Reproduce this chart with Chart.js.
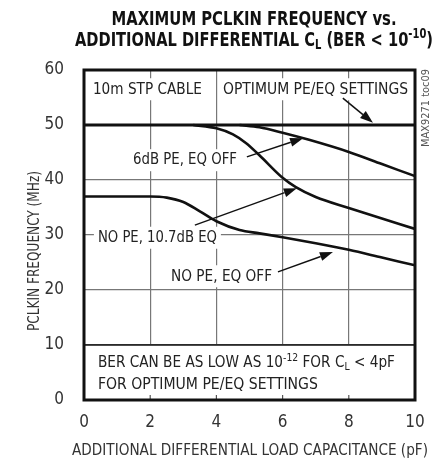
<!DOCTYPE html>
<html>
<head>
<meta charset="utf-8">
<script src="https://cdn.jsdelivr.net/npm/chart.js@4.4.1/dist/chart.umd.min.js"></script>
<style>
  html, body { margin: 0; padding: 0; background: #fff; }
  #wrap { width: 445px; height: 461px; }
</style>
</head>
<body>
<div id="wrap"><canvas id="grafico" width="445" height="461"></canvas></div>
<script>
const FONT = "'Liberation Sans Narrow','DejaVu Sans Condensed','Roboto Condensed','Arial Narrow','Liberation Sans',sans-serif";

// ejes
const xTicks = [0, 2, 4, 6, 8, 10];
const yTicks = [0, 10, 20, 30, 40, 50, 60];

// curvas (pF -> MHz)
const optimumX = [0, 10];
const optimumY = [50, 50];
const pe6X = [4.7, 5.3, 6, 6.8, 8, 9, 10];
const pe6Y = [50, 49.6, 48.6, 47.3, 45.1, 42.9, 40.7];
const eq107X = [3.3, 4, 4.5, 4.9, 5.3, 6, 6.4, 7, 8, 9, 10];
const eq107Y = [50, 49.4, 48.3, 46.7, 44.5, 40.4, 38.7, 36.9, 34.9, 33, 31.1];
const eqOffX = [0, 2, 2.5, 3, 3.5, 4, 4.7, 5.3, 6, 7, 8, 9, 10];
const eqOffY = [37, 37, 36.8, 36, 34.3, 32.5, 30.9, 30.3, 29.6, 28.5, 27.3, 25.9, 24.5];

const toPts = (xs, ys) => xs.map((x, i) => ({ x: x, y: ys[i] }));

// === ETIQUETAS Y FLECHAS (en unidades de datos, w = ancho en px) ===
const etiquetas = [
    { x: 0.27, y: 56.5, w: 109, segs: [{ t: "10m STP CABLE" }] },
    { x: 4.2, y: 56.5, w: 185, segs: [{ t: "OPTIMUM PE/EQ SETTINGS" }] },
    { x: 1.48, y: 43.6, w: 104, segs: [{ t: "6dB PE, EQ OFF" }] },
    { x: 0.42, y: 29.5, w: 119, segs: [{ t: "NO PE, 10.7dB EQ" }] },
    { x: 2.63, y: 22.5, w: 101, segs: [{ t: "NO PE, EQ OFF" }] }
];
const flechas = [
    [7.82, 54.9, 8.73, 50.4],
    [4.92, 44.2, 6.62, 47.6],
    [3.35, 31.8, 6.43, 38.5],
    [5.86, 23.3, 7.52, 26.9]
];
const nota1 = [{ t: "BER CAN BE AS LOW AS 10" }, { t: "-12", sup: true }, { t: " FOR C" }, { t: "L", sub: true }, { t: " < 4pF" }];
const nota2 = [{ t: "FOR OPTIMUM PE/EQ SETTINGS" }];
const titulo1 = [{ t: "MAXIMUM PCLKIN FREQUENCY vs." }];
const titulo2 = [{ t: "ADDITIONAL DIFFERENTIAL C" }, { t: "L", sub: true }, { t: " (BER < 10" }, { t: "-10", sup: true }, { t: ")" }];
const tituloX = [{ t: "ADDITIONAL DIFFERENTIAL LOAD CAPACITANCE (pF)" }];
const tituloY = [{ t: "PCLKIN FREQUENCY (MHz)" }];

function anchoSegs(ctx, segs, size, weight) {
    let w = 0;
    segs.forEach(s => {
        const sz = (s.sup || s.sub) ? size * 0.68 : size;
        ctx.font = weight + " " + sz + "px " + FONT;
        w += ctx.measureText(s.t).width;
    });
    return w;
}

// texto con sub/superindices, comprimido al ancho pedido
function dibujarSegs(ctx, segs, x, y, size, weight, color, ancho) {
    const sx = ancho ? ancho / anchoSegs(ctx, segs, size, weight) : 1;
    ctx.save();
    ctx.translate(x, y);
    ctx.scale(sx, 1);
    ctx.fillStyle = color;
    ctx.textBaseline = "middle";
    ctx.textAlign = "left";
    let cx = 0;
    segs.forEach(s => {
        const sz = (s.sup || s.sub) ? size * 0.68 : size;
        ctx.font = weight + " " + sz + "px " + FONT;
        let dy = 0;
        if (s.sup) dy = -size * 0.33;
        if (s.sub) dy = size * 0.22;
        ctx.fillText(s.t, cx, dy);
        cx += ctx.measureText(s.t).width;
    });
    ctx.restore();
}

function flecha(ctx, x1, y1, x2, y2) {
    const ang = Math.atan2(y2 - y1, x2 - x1);
    const L = 13, W = 4.5;
    const bx = x2 - L * Math.cos(ang), by = y2 - L * Math.sin(ang);
    ctx.beginPath();
    ctx.moveTo(x1, y1);
    ctx.lineTo(bx, by);
    ctx.strokeStyle = "#111";
    ctx.lineWidth = 1.5;
    ctx.stroke();
    ctx.beginPath();
    ctx.moveTo(x2, y2);
    ctx.lineTo(bx + W * Math.sin(ang), by - W * Math.cos(ang));
    ctx.lineTo(bx - W * Math.sin(ang), by + W * Math.cos(ang));
    ctx.closePath();
    ctx.fillStyle = "#111";
    ctx.fill();
}

const anotaciones = {
    id: "anotaciones",
    beforeDatasetsDraw(chart) {
        const ctx = chart.ctx;
        const xs = chart.scales.x, ys = chart.scales.y;
        const a = chart.chartArea;
        ctx.save();

        // caja inferior blanca (0-10 MHz)
        const y10 = ys.getPixelForValue(10);
        ctx.fillStyle = "#fff";
        ctx.fillRect(a.left, y10, a.right - a.left, a.bottom - y10);
        ctx.beginPath();
        ctx.moveTo(a.left, y10);
        ctx.lineTo(a.right, y10);
        ctx.strokeStyle = "#111";
        ctx.lineWidth = 1.6;
        ctx.stroke();
        ctx.strokeStyle = "#555";
        ctx.lineWidth = 1.2;
        xTicks.slice(1, -1).forEach(v => {
            const px = xs.getPixelForValue(v);
            ctx.beginPath();
            ctx.moveTo(px, a.bottom);
            ctx.lineTo(px, a.bottom - 5);
            ctx.stroke();
        });

        // etiquetas con fondo blanco
        etiquetas.forEach(e => {
            const px = xs.getPixelForValue(e.x), py = ys.getPixelForValue(e.y);
            ctx.fillStyle = "#fff";
            ctx.fillRect(px - 4, py - 11, e.w + 8, 22);
            dibujarSegs(ctx, e.segs, px, py, 16.5, "normal", "#222", e.w);
        });

        flechas.forEach(f => {
            flecha(ctx, xs.getPixelForValue(f[0]), ys.getPixelForValue(f[1]),
                xs.getPixelForValue(f[2]), ys.getPixelForValue(f[3]));
        });

        const nx = xs.getPixelForValue(0.42);
        dibujarSegs(ctx, nota1, nx, ys.getPixelForValue(6.7), 16.5, "normal", "#222", 297);
        dibujarSegs(ctx, nota2, nx, ys.getPixelForValue(2.7), 16.5, "normal", "#222", 220);
        ctx.restore();
    },
    afterDatasetsDraw(chart) {
        const ctx = chart.ctx;
        const a = chart.chartArea;
        ctx.save();
        ctx.strokeStyle = "#111";
        ctx.lineWidth = 3;
        ctx.strokeRect(a.left, a.top, a.right - a.left, a.bottom - a.top);
        ctx.restore();
    },
    afterDraw(chart) {
        const ctx = chart.ctx;
        // titulo
        dibujarSegs(ctx, titulo1, 254 - 285 / 2, 20, 20, "bold", "#111", 285);
        dibujarSegs(ctx, titulo2, 254 - 358 / 2, 41, 20, "bold", "#111", 358);

        // titulos de ejes
        dibujarSegs(ctx, tituloX, 72, 451, 16.5, "normal", "#333", 356);
        ctx.save();
        ctx.translate(35, 251);
        ctx.rotate(-Math.PI / 2);
        dibujarSegs(ctx, tituloY, -80, 0, 16.5, "normal", "#333", 160);
        ctx.restore();

        // codigo lateral
        ctx.save();
        ctx.translate(426, 108);
        ctx.rotate(-Math.PI / 2);
        dibujarSegs(ctx, [{ t: "MAX9271 toc09" }], -39, 0, 10, "normal", "#555", 78);
        ctx.restore();
    }
};

const estilo = {
    pointRadius: 0,
    borderColor: "#111",
    borderWidth: 2.6,
    cubicInterpolationMode: "monotone",
    fill: false
};

new Chart(document.getElementById("grafico"), {
    type: "line",
    data: {
        datasets: [
            Object.assign({ label: "OPTIMUM PE/EQ", data: toPts(optimumX, optimumY) }, estilo, { borderWidth: 3 }),
            Object.assign({ label: "6dB PE, EQ OFF", data: toPts(pe6X, pe6Y) }, estilo),
            Object.assign({ label: "NO PE, 10.7dB EQ", data: toPts(eq107X, eq107Y) }, estilo),
            Object.assign({ label: "NO PE, EQ OFF", data: toPts(eqOffX, eqOffY) }, estilo)
        ]
    },
    options: {
        responsive: false,
        animation: false,
        layout: { padding: { top: 70, right: 30, left: 0, bottom: 0 } },
        plugins: {
            legend: { display: false },
            tooltip: { enabled: false },
            title: { display: false }
        },
        scales: {
            x: {
                type: "linear",
                min: 0,
                max: 10,
                afterFit: s => { s.height = 61; },
                afterBuildTicks: s => { s.ticks = xTicks.map(v => ({ value: v })); },
                ticks: { color: "#333", font: { family: FONT, size: 17 }, padding: 12, autoSkip: false, maxRotation: 0 },
                grid: { color: "#777", lineWidth: 1.2, drawTicks: false },
                border: { display: false }
            },
            y: {
                min: 0,
                max: 60,
                afterFit: s => { s.width = 84; },
                afterBuildTicks: s => { s.ticks = yTicks.map(v => ({ value: v })); },
                ticks: { color: "#333", font: { family: FONT, size: 17 }, padding: 20 },
                grid: { color: "#777", lineWidth: 1.2, drawTicks: false },
                border: { display: false }
            }
        }
    },
    plugins: [anotaciones]
});
</script>
</body>
</html>
